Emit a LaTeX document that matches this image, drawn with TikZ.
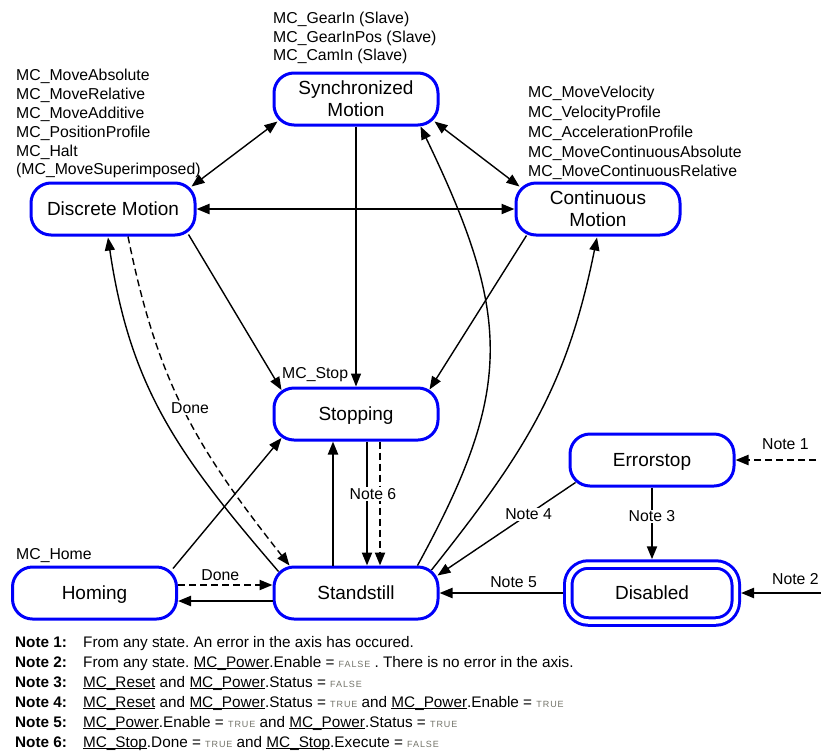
\documentclass[tikz,border=0pt]{standalone}
\usepackage{fontspec}
\setmainfont{Liberation Sans}
\newfontfamily\capsfont[LetterSpace=10]{Liberation Sans}
\usetikzlibrary{arrows.meta,calc}
\definecolor{stblue}{RGB}{0,0,250}
\definecolor{capgray}{RGB}{115,115,105}
\frenchspacing
\newcommand{\kwFALSE}{{\capsfont\fontsize{9}{10}\selectfont\color{capgray}FALSE}}
\newcommand{\kwTRUE}{{\capsfont\fontsize{9}{10}\selectfont\color{capgray}TRUE}}
\newcommand{\ulname}[1]{\setbox0\hbox{#1}\rlap{\rule[-2pt]{\wd0}{0.9pt}}\box0\relax}
\begin{document}
\begin{tikzpicture}[x=1pt,y=-1pt,
  >={Triangle[length=13pt,width=10pt]},
  state/.style={draw=stblue, line width=3pt, rounded corners=20pt,
    minimum width=164pt, minimum height=52pt, inner sep=0pt, align=center,
    text height=13.6pt, text depth=0pt,
    font=\fontsize{19}{22}\selectfont},
  twoline/.style={text height=35.6pt},
  lbl/.style={font=\fontsize{15.8}{18.8}\selectfont, inner sep=0pt, align=left},
  notetag/.style={font=\fontsize{15.8}{18}\selectfont, inner sep=1pt, fill=white},
  thinln/.style={line width=1.4pt},
  thickln/.style={line width=2.2pt},
  dsh/.style={dash pattern=on 7pt off 4pt},
  notel/.style={font=\fontsize{15.3}{18}\selectfont\bfseries, inner sep=0pt, anchor=base west},
  notet/.style={font=\fontsize{15.3}{18}\selectfont, inner sep=0pt, anchor=base west}]
\useasboundingbox (0,0) rectangle (821,750);

% states
\node[state, twoline] (sync) at (356,99) {Synchronized\\Motion};
\node[state] (disc) at (113,209) {Discrete Motion};
\node[state, twoline] (cont) at (598,209) {Continuous\\Motion};
\node[state] (stop) at (356,414) {Stopping};
\node[state] (err) at (652,460) {Errorstop};
\node[state] (home) at (94.5,593) {Homing};
\node[state] (stand) at (356,593) {Standstill};
\node[state, double=white, double distance=4.5pt, outer sep=5.25pt,
  minimum width=167.5pt, minimum height=57pt] (dis) at (652,593) {Disabled};

% labels
\node[lbl, anchor=north west, font=\fontsize{15.8}{18.2}\selectfont] (syncl) at (273,12.3)
  {MC\_GearIn (Slave)\\MC\_GearInPos (Slave)\\MC\_CamIn (Slave)};
\node[lbl, anchor=north west] (discl) at (16,69.3)
  {MC\_MoveAbsolute\\MC\_MoveRelative\\MC\_MoveAdditive\\MC\_PositionProfile\\MC\_Halt\\(MC\_MoveSuperimposed)};
\node[lbl, anchor=north west, font=\fontsize{15.8}{19.7}\selectfont] (contl) at (528,86.3)
  {MC\_MoveVelocity\\MC\_VelocityProfile\\MC\_AccelerationProfile\\MC\_MoveContinuousAbsolute\\MC\_MoveContinuousRelative};
\node[lbl, anchor=base west] (stopl) at (282,378) {MC\_Stop};
\node[lbl, anchor=base west] (homel) at (16,559) {MC\_Home};

% connectors among motion states
\draw[thinln,<->] ($(disc.north east)+(-5,5)$) -- ($(sync.south west)+(5,-5)$);
\draw[thinln,<->] ($(sync.south east)+(-5,-5)$) -- ($(cont.north west)+(5,5)$);
\draw[thickln,<->] (disc.east) -- (cont.west);
\draw[thinln,->] ($(disc.south east)+(-8,-2)$) -- ($(stop.north west)+(9,3.5)$);
\draw[thinln,->] (sync.south) -- (stop.north);
\draw[thinln,->] ($(cont.south west)+(12,-1)$) -- ($(stop.north east)+(-10,3)$);

% curves from standstill
\draw[thinln,->] ($(stand.north west)+(6,6)$) .. controls (179,456) and (130,388) .. ($(disc.south)+(-5,1)$);
\draw[thinln,dsh,->] ($(disc.south)+(15,0)$) .. controls (158,385) and (197,448) .. ($(stand.north west)+(17,0)$);
\node[notetag] (done1) at (190,408) {Done};
\draw[thinln,->] ($(stand.north east)+(-22,0)$) .. controls (513,391) and (513,318) .. ($(sync.south east)+(-19,0)$);
\draw[thinln,->] ($(stand.north east)+(-8,4.5)$) .. controls (526,451) and (567,386) .. ($(cont.south)+(-1,1)$);

% homing
\draw[thinln,->] ($(home.north east)+(-5,3)$) -- ($(stop.south west)+(9,-3.5)$);
\draw[thickln,->] ($(stand.west)+(0,8)$) -- ($(home.east)+(0,8)$);
\draw[thickln,dsh,->] ($(home.east)+(0,-8)$) -- ($(stand.west)+(0,-8)$)
  node[notetag, fill=none, midway, above=2pt, xshift=-5pt] {Done};

% stopping / standstill
\draw[thickln,->] ($(stand.north)+(-23,0)$) -- ($(stop.south)+(-23,0)$);
\draw[thickln,->] ($(stop.south)+(11,0)$) -- ($(stand.north)+(11,0)$);
\draw[thickln,dsh,->] ($(stop.south)+(24,0)$) -- ($(stand.north)+(24,0)$);
\node[notetag] (note6) at (373,494) {Note 6};

% error / disabled
\draw[thinln,->] ($(err.south west)+(7,-5)$) -- ($(stand.north east)+(-2,10)$)
  node[notetag, pos=0.34] {Note 4};
\draw[thickln,->] (err.south) -- (dis.north) node[notetag, pos=0.4] {Note 3};
\coordinate (in1) at (816,460);
\draw[thickln,dsh,->] (in1) -- (err.east) node[notetag, fill=none, pos=0.38, above=8pt] {Note 1};
\coordinate (in2) at (821,593);
\draw[thickln,->] (in2) -- (dis.east) node[notetag, fill=none, pos=0.32, above=6pt] {Note 2};
\draw[thickln,->] (dis.west) -- (stand.east) node[notetag, fill=none, pos=0.4, above=3pt] {Note 5};

% notes
\node[notel] (l1) at (15,647) {Note 1:};
\node[notet] (t1) at (83,647) {From any state. An error in the axis has occured.};
\node[notel] (l2) at (15,667) {Note 2:};
\node[notet] (t2) at (83,667) {From any state. \ulname{MC\_Power}.Enable = \kwFALSE\ . There is no error in the axis.};
\node[notel] (l3) at (15,687) {Note 3:};
\node[notet] (t3) at (83,687) {\ulname{MC\_Reset} and \ulname{MC\_Power}.Status = \kwFALSE};
\node[notel] (l4) at (15,707) {Note 4:};
\node[notet] (t4) at (83,707) {\ulname{MC\_Reset} and \ulname{MC\_Power}.Status = \kwTRUE\ and \ulname{MC\_Power}.Enable = \kwTRUE};
\node[notel] (l5) at (15,727) {Note 5:};
\node[notet] (t5) at (83,727) {\ulname{MC\_Power}.Enable = \kwTRUE\ and \ulname{MC\_Power}.Status = \kwTRUE};
\node[notel] (l6) at (15,747) {Note 6:};
\node[notet] (t6) at (83,747) {\ulname{MC\_Stop}.Done = \kwTRUE\ and \ulname{MC\_Stop}.Execute = \kwFALSE};
\end{tikzpicture}
\end{document}
